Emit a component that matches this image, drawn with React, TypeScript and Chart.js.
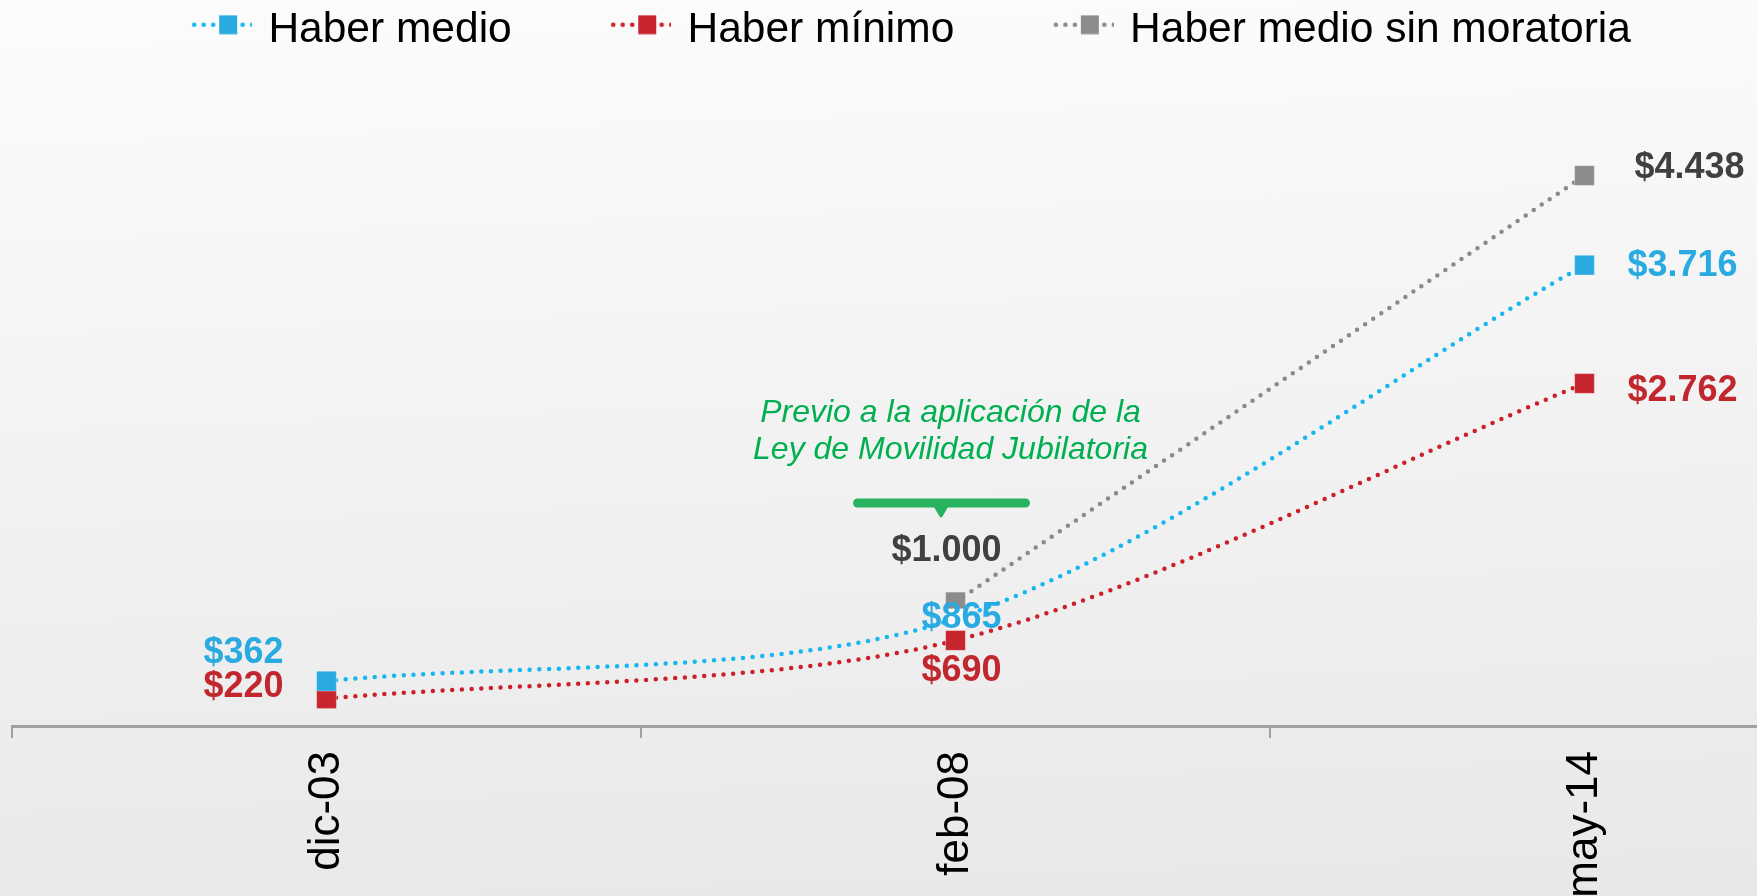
import React, { useEffect, useRef } from 'react';
import { Chart, registerables } from 'chart.js';

Chart.register(...registerables);

// ---- data ----
const categories = ['dic-03', 'feb-08', 'may-14'];
const haberMedio = [362, 865, 3716];
const haberMinimo = [220, 690, 2762];
const haberSinMoratoria: (number | null)[] = [null, 1000, 4438];
const seriesNames = ['Haber medio', 'Haber mínimo', 'Haber medio sin moratoria'];
const annotationLines = ['Previo a la aplicación de la', 'Ley de Movilidad Jubilatoria'];
const annotationIndex = 1;

// ---- styling ----
const FONT = '"Liberation Sans", Arial, Helvetica, sans-serif';
const BLUE = { line: '#16b7f0', point: '#29abe2', label: '#29abe2' };
const RED = { line: '#cc1f28', point: '#c8262e', label: '#c1272d' };
const GRAY = { line: '#8a8a8a', point: '#8c8c8c', label: '#404040' };
const GREEN_TEXT = '#00b050';
const GREEN_BAR = '#27b35f';
const LEGEND_SHIFT = -89;
const MARKER_BOX = 145;

type Place = { align: CanvasTextAlign; dx: number; dy: number } | null;
const labelPlacement: Place[][] = [
  [{ align: 'right', dx: -43, dy: -28 }, { align: 'center', dx: 6, dy: -1 }, { align: 'left', dx: 43, dy: 1 }],
  [{ align: 'right', dx: -43, dy: -12 }, { align: 'center', dx: 6, dy: 31 }, { align: 'left', dx: 43, dy: 8 }],
  [null, { align: 'center', dx: -9, dy: -51 }, { align: 'left', dx: 50, dy: -8 }],
];
// the blue feb-08 marker is masked in the original (drawn light under its label)
const bluePointFill = [BLUE.point, '#fafafa', BLUE.point];

function fmt(v: number) {
  return '$' + String(v).replace(/\B(?=(\d{3})+(?!\d))/g, '.');
}

function makeMarker(lineColor: string, fillColor: string) {
  const c = document.createElement('canvas');
  c.width = MARKER_BOX + 10;
  c.height = 32;
  const g = c.getContext('2d')!;
  const off = 95;
  const cy = 10;
  g.fillStyle = lineColor;
  [2, 11.5, 21, 50.5, 60].forEach((x) => {
    g.beginPath();
    g.arc(off + x, cy, 2.3, 0, Math.PI * 2);
    g.fill();
  });
  g.fillStyle = fillColor;
  g.fillRect(off + 27, cy - 9.5, 18, 19);
  return c;
}

const legendShiftPlugin = {
  id: 'legendShift',
  afterLayout(chart: any) {
    const lg = chart.legend;
    if (lg) {
      lg.left += LEGEND_SHIFT;
      lg.right += LEGEND_SHIFT;
    }
  },
};

const valueLabelPlugin = {
  id: 'valueLabels',
  afterDatasetsDraw(chart: any) {
    const ctx: CanvasRenderingContext2D = chart.ctx;
    const colors = [BLUE.label, RED.label, GRAY.label];
    ctx.save();
    ctx.font = `bold 36px ${FONT}`;
    ctx.textBaseline = 'middle';
    [2, 1, 0].forEach((di) => {
      const meta = chart.getDatasetMeta(di);
      const data = chart.data.datasets[di].data;
      meta.data.forEach((pt: any, i: number) => {
        const v = data[i];
        const p = labelPlacement[di][i];
        if (v == null || !p) return;
        ctx.fillStyle = colors[di];
        ctx.textAlign = p.align;
        ctx.fillText(fmt(v), pt.x + p.dx, pt.y + p.dy);
      });
    });
    ctx.restore();
  },
};

const annotationPlugin = {
  id: 'annotation',
  afterDatasetsDraw(chart: any) {
    const ctx: CanvasRenderingContext2D = chart.ctx;
    const v = haberSinMoratoria[annotationIndex] as number;
    const x = chart.scales.x.getPixelForValue(annotationIndex);
    const y = chart.scales.y.getPixelForValue(v);
    ctx.save();
    ctx.font = `italic 32px ${FONT}`;
    ctx.fillStyle = GREEN_TEXT;
    ctx.textAlign = 'center';
    ctx.textBaseline = 'middle';
    ctx.fillText(annotationLines[0], x - 5, y - 189);
    ctx.fillText(annotationLines[1], x - 5, y - 152);
    ctx.strokeStyle = GREEN_BAR;
    ctx.lineCap = 'round';
    ctx.lineWidth = 9;
    ctx.beginPath();
    ctx.moveTo(x - 98, y - 99);
    ctx.lineTo(x + 70, y - 99);
    ctx.stroke();
    ctx.fillStyle = GREEN_BAR;
    ctx.lineWidth = 3;
    ctx.lineJoin = 'round';
    ctx.beginPath();
    ctx.moveTo(x - 21, y - 97);
    ctx.lineTo(x - 8, y - 97);
    ctx.lineTo(x - 14.5, y - 86);
    ctx.closePath();
    ctx.fill();
    ctx.stroke();
    ctx.restore();
  },
};

export default function App() {
  const ref = useRef<HTMLCanvasElement>(null);

  useEffect(() => {
    if (!ref.current) return;
    const markers = [
      makeMarker(BLUE.line, BLUE.point),
      makeMarker(RED.line, RED.point),
      makeMarker(GRAY.line, GRAY.point),
    ];
    const lineStyle = (c: { line: string; point: string }) => ({
      borderColor: c.line,
      backgroundColor: c.point,
      borderWidth: 4.5,
      borderDash: [0, 9.7],
      borderCapStyle: 'round' as const,
      tension: 0.3,
      pointStyle: 'rect' as const,
      pointRadius: 14,
      pointBackgroundColor: c.point as any,
      pointBorderColor: 'rgba(255,255,255,0.35)',
      pointBorderWidth: 1,
      spanGaps: true,
      fill: false,
    });
    const chart = new Chart(ref.current, {
      type: 'line',
      data: {
        labels: categories,
        datasets: [
          { label: seriesNames[0], data: haberMedio, ...lineStyle(BLUE), pointBackgroundColor: bluePointFill },
          { label: seriesNames[1], data: haberMinimo, ...lineStyle(RED) },
          { label: seriesNames[2], data: haberSinMoratoria, ...lineStyle(GRAY) },
        ],
      },
      options: {
        responsive: false,
        animation: false,
        events: [],
        layout: { autoPadding: false, padding: { left: 12, right: 1, top: 0, bottom: 0 } },
        plugins: {
          tooltip: { enabled: false },
          legend: {
            display: true,
            position: 'top',
            labels: {
              usePointStyle: true,
              pointStyleWidth: MARKER_BOX,
              boxHeight: 20,
              padding: 9.5,
              color: '#000',
              font: { size: 42.5, family: FONT, lineHeight: 1 },
              generateLabels: (c: any) =>
                c.data.datasets.map((ds: any, i: number) => ({
                  text: ds.label,
                  pointStyle: markers[i],
                  datasetIndex: i,
                  hidden: false,
                  fillStyle: 'transparent',
                  strokeStyle: 'transparent',
                  lineWidth: 0,
                  fontColor: '#000',
                })),
            },
          },
        },
        scales: {
          x: {
            type: 'category',
            offset: true,
            grid: {
              display: true,
              offset: true,
              drawOnChartArea: false,
              drawTicks: true,
              tickLength: 12,
              color: '#a0a0a0',
              lineWidth: 2,
            },
            border: { display: true, color: '#a0a0a0', width: 3 },
            ticks: {
              autoSkip: false,
              minRotation: 90,
              maxRotation: 90,
              padding: 13,
              color: '#000',
              font: { size: 44, family: FONT },
            },
            afterFit: (s: any) => {
              s.height = 170;
              s.paddingLeft = 0;
              s.paddingRight = 0;
            },
          },
          y: {
            display: false,
            min: 0,
            max: 5354,
          },
        },
      },
      plugins: [legendShiftPlugin, valueLabelPlugin, annotationPlugin],
    });
    return () => chart.destroy();
  }, []);

  return (
    <div
      style={{
        position: 'fixed',
        left: 0,
        top: 0,
        width: '100vw',
        height: '100vh',
        overflow: 'hidden',
        background: 'linear-gradient(178deg, #fcfcfc 0%, #e8e8e9 100%)',
      }}
    >
      <canvas ref={ref} width={1900} height={896} style={{ display: 'block' }} />
    </div>
  );
}
